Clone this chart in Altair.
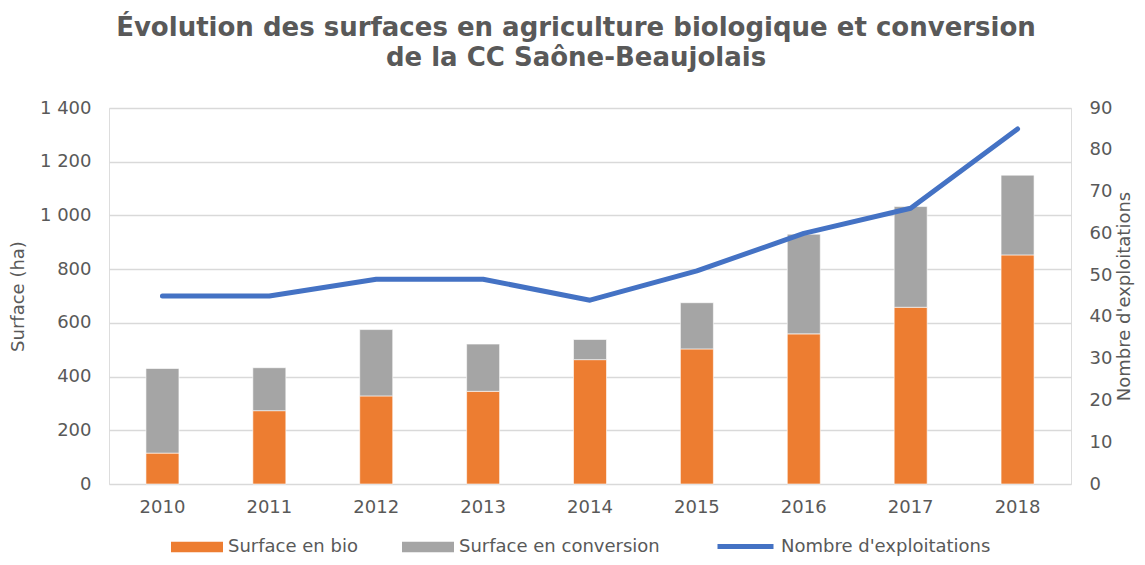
import altair as alt
import pandas as pd

years = ["2010", "2011", "2012", "2013", "2014", "2015", "2016", "2017", "2018"]
surface_bio = [115, 273, 328, 345, 463, 503, 559, 658, 853]
surface_conversion = [315, 160, 247, 176, 75, 172, 371, 375, 297]
nb_exploitations = [45, 45, 49, 49, 44, 51, 60, 66, 85]

series_bars = ["Surface en bio", "Surface en conversion"]
series_line = "Nombre d'exploitations"

rows = []
for i, y in enumerate(years):
    rows.append({"Année": y, "Série": series_bars[0], "Valeur": surface_bio[i], "ordre": 0})
    rows.append({"Année": y, "Série": series_bars[1], "Valeur": surface_conversion[i], "ordre": 1})
bars_df = pd.DataFrame(rows)
line_df = pd.DataFrame({"Année": years, "Nombre": nb_exploitations, "Série": [series_line] * len(years)})

TXT = "#595959"
GRID = "#d9d9d9"
FONT = "DejaVu Sans"
FS = 18

x = alt.X("Année:N", scale=alt.Scale(paddingInner=0, paddingOuter=0),
          axis=alt.Axis(title=None, labelAngle=0, domain=False, ticks=False, grid=False,
                        labelFontSize=FS, labelColor=TXT, labelPadding=14, labelFont=FONT))

bars = alt.Chart(bars_df).mark_bar(size=33, stroke="white", strokeWidth=0.6).encode(
    x=x,
    y=alt.Y("Valeur:Q", stack="zero",
            scale=alt.Scale(domain=[0, 1400], nice=False),
            axis=alt.Axis(title="Surface (ha)", values=list(range(0, 1401, 200)),
                          labelExpr="replace(format(datum.value, ',d'), ',', ' ')",
                          domain=False, ticks=False, grid=True, gridColor=GRID, gridWidth=1.3,
                          labelFontSize=FS, labelColor=TXT, labelPadding=18, labelFont=FONT,
                          titleFontSize=FS, titleColor=TXT, titleFontWeight="normal",
                          titleFont=FONT, titlePadding=12)),
    color=alt.Color("Série:N",
                    scale=alt.Scale(domain=series_bars, range=["#ED7D31", "#A5A5A5"]),
                    legend=alt.Legend(title=None, orient="none", legendX=62, legendY=413,
                                      direction="horizontal",
                                      symbolType="M-1,-0.2H1V0.2H-1Z", symbolSize=2704,
                                      symbolStrokeWidth=0, labelLimit=400,
                                      labelFontSize=FS, labelColor=TXT, labelFont=FONT,
                                      labelOffset=5, columnPadding=44)),
    order=alt.Order("ordre:Q", sort="ascending"),
)

line = alt.Chart(line_df).mark_line(strokeWidth=5, strokeCap="round", strokeJoin="round").encode(
    x=x,
    y=alt.Y("Nombre:Q", scale=alt.Scale(domain=[0, 90], nice=False),
            axis=alt.Axis(title="Nombre d'exploitations", orient="right",
                          values=list(range(0, 91, 10)),
                          domain=False, ticks=False, grid=False,
                          titleAngle=270, titleBaseline="top",
                          labelFontSize=FS, labelColor=TXT, labelPadding=18, labelFont=FONT,
                          titleFontSize=FS, titleColor=TXT, titleFontWeight="normal",
                          titleFont=FONT, titlePadding=4)),
    stroke=alt.Stroke("Série:N", scale=alt.Scale(domain=[series_line], range=["#4472C4"]),
                      legend=alt.Legend(title=None, orient="none", legendX=606, legendY=408,
                                        symbolType="stroke", symbolSize=3136,
                                        symbolStrokeWidth=5, labelLimit=400,
                                        labelFontSize=FS, labelColor=TXT, labelFont=FONT,
                                        labelOffset=5)),
)

chart = alt.layer(bars, line).resolve_scale(
    y="independent", color="independent", stroke="independent"
).properties(
    width=962,
    height=376,
    autosize=alt.AutoSizeParams(type="none"),
    padding={"left": 101, "top": 100, "right": 66, "bottom": 73},
    title=alt.TitleParams(
        text=["Évolution des surfaces en agriculture biologique et conversion",
              "de la CC Saône-Beaujolais"],
        fontSize=26, font=FONT, fontWeight="bold", color=TXT,
        anchor="middle", offset=28, dx=-14, lineHeight=30),
).configure_view(stroke=None).configure(font=FONT)

chart.save("out.html", embed_options={"renderer": "svg", "actions": False})
